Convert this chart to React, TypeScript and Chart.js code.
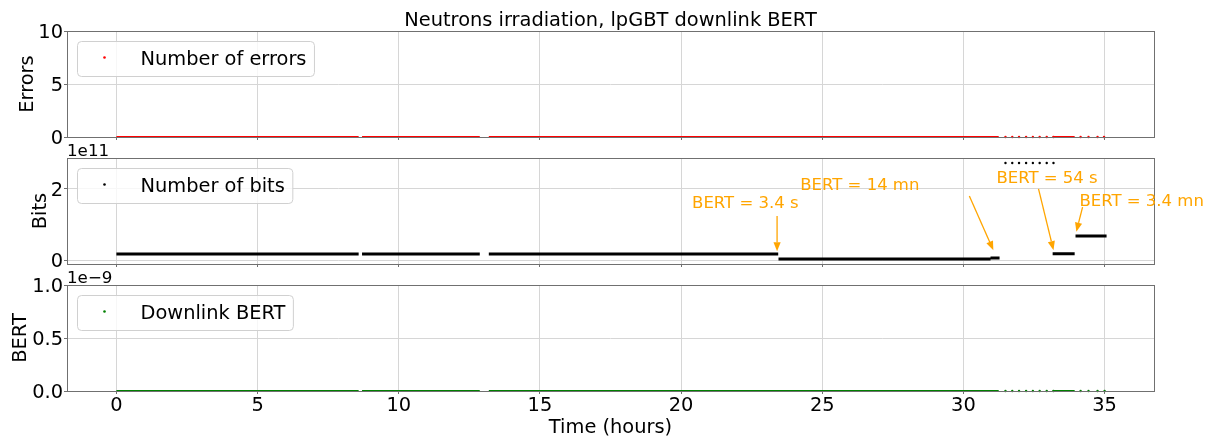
import React, { useEffect, useRef } from 'react';
import { Chart, registerables } from 'chart.js';

Chart.register(...registerables);

const FONT = "'DejaVu Sans', 'Liberation Sans', sans-serif";
const W = 1207;
const H = 438;

// ---------- data ----------
const TITLE = 'Neutrons irradiation, lpGBT downlink BERT';
const X_LABEL = 'Time (hours)';
const X_MIN = -1.75;
const X_MAX = 36.75;
const X_TICKS = [0, 5, 10, 15, 20, 25, 30, 35];

// Number of errors: continuous runs [start h, end h, value] and sparse points [h, value]
const ERR_SEGMENTS = [
  [0, 8.58, 0],
  [8.7, 12.87, 0],
  [13.19, 31.25, 0],
  [33.16, 33.94, 0],
];
const ERR_POINTS = [
  [31.49, 0], [31.73, 0], [31.97, 0], [32.22, 0], [32.46, 0], [32.7, 0], [32.95, 0], [33.19, 0],
  [34.15, 0], [34.43, 0], [34.75, 0], [34.98, 0],
];
const ERR_TICKS = [0, 5, 10];

// Number of bits
const BITS_SEGMENTS = [
  [0, 8.58, 1.7e10],
  [8.7, 12.87, 1.7e10],
  [13.19, 23.44, 1.7e10],
  [23.45, 30.96, 3e9],
  [30.96, 31.28, 6e9],
  [33.16, 33.94, 1.8e10],
  [33.97, 35.07, 6.8e10],
];
const BITS_POINTS = [
  [31.49, 2.73e11], [31.73, 2.73e11], [31.97, 2.73e11], [32.22, 2.73e11],
  [32.46, 2.73e11], [32.7, 2.73e11], [32.95, 2.73e11], [33.19, 2.73e11],
];
const BITS_TICKS = [0, 2e11];

// Downlink BERT
const BERT_SEGMENTS = [
  [0, 8.58, 0],
  [8.7, 12.87, 0],
  [13.19, 31.25, 0],
  [33.16, 33.94, 0],
];
const BERT_POINTS = [
  [31.49, 0], [31.73, 0], [31.97, 0], [32.22, 0], [32.46, 0], [32.7, 0], [32.95, 0], [33.19, 0],
  [34.15, 0], [34.43, 0], [34.75, 0], [35.0, 0],
];
const BERT_TICKS = [0, 0.5e-9, 1e-9];

// Annotations (data coordinates of the bits panel; text anchor = left / baseline)
const ANNOT_TEXTS = ['BERT = 3.4 s', 'BERT = 14 mn', 'BERT = 54 s', 'BERT = 3.4 mn'];
const ANNOT_TEXT_AT = [[20.39, 1.473e11], [24.22, 1.971e11], [31.17, 2.159e11], [34.11, 1.521e11]];
const ANNOT_TAIL = [[23.4, 1.24e11], [30.21, 1.8e11], [32.66, 2.0e11], [34.22, 1.49e11]];
const ANNOT_HEAD = [[23.4, 0.25e11], [31.06, 0.28e11], [33.19, 0.28e11], [34.0, 0.8e11]];

// ---------- styles ----------
const SPINE = '#707070';
const GRID = '#d6d6d6';
const ORANGE = '#FFA500';
const FS = 19.4;

function segData(segs: number[][]) {
  const out: any[] = [];
  segs.forEach(([s, e, v]) => {
    out.push({ x: s, y: v });
    out.push({ x: e, y: v });
    out.push({ x: e, y: null });
  });
  return out;
}

function drawArrow(ctx: CanvasRenderingContext2D, x1: number, y1: number, x2: number, y2: number) {
  const a = Math.atan2(y2 - y1, x2 - x1);
  const hl = 9;
  const hw = 3.6;
  const bx = x2 - hl * Math.cos(a);
  const by = y2 - hl * Math.sin(a);
  ctx.strokeStyle = ORANGE;
  ctx.fillStyle = ORANGE;
  ctx.lineWidth = 1.3;
  ctx.beginPath();
  ctx.moveTo(x1, y1);
  ctx.lineTo(bx, by);
  ctx.stroke();
  ctx.beginPath();
  ctx.moveTo(x2, y2);
  ctx.lineTo(bx + hw * Math.sin(a), by - hw * Math.cos(a));
  ctx.lineTo(bx - hw * Math.sin(a), by + hw * Math.cos(a));
  ctx.closePath();
  ctx.fill();
}

type PanelOpts = {
  label: string;
  color: string;
  lineWidth: number;
  segments: number[][];
  points: number[][];
  yMin: number;
  yMax: number;
  yTicks: number[];
  yFmt: (v: number) => string;
  yTitle: string;
  yTitlePad: number;
  top: number;
  bottom: number;
  title?: boolean;
  xLabels?: boolean;
  offsetText?: string;
  annotations?: boolean;
};

function makeConfig(p: PanelOpts): any {
  const xAxisH = p.xLabels ? H - p.bottom : 4;
  const padTop = p.title ? 0 : p.top;
  const padBottom = H - p.bottom - xAxisH;

  const extras = {
    id: 'extras' + p.label.replace(/\s/g, ''),
    afterDatasetsDraw(chart: any) {
      const ctx: CanvasRenderingContext2D = chart.ctx;
      const ca = chart.chartArea;
      ctx.save();
      // spines
      ctx.strokeStyle = SPINE;
      ctx.lineWidth = 1;
      ctx.strokeRect(Math.round(ca.left) + 0.5, Math.round(ca.top) + 0.5, Math.round(ca.right - ca.left), Math.round(ca.bottom - ca.top));

      // offset text
      if (p.offsetText) {
        ctx.fillStyle = '#000';
        ctx.font = `16.7px ${FONT}`;
        ctx.textAlign = 'left';
        ctx.textBaseline = 'alphabetic';
        ctx.fillText(p.offsetText, ca.left, ca.top - 2.3);
      }

      // annotations
      if (p.annotations) {
        const xs = chart.scales.x;
        const ys = chart.scales.y;
        ctx.font = `16.5px ${FONT}`;
        ctx.textAlign = 'left';
        ctx.textBaseline = 'alphabetic';
        ANNOT_TEXTS.forEach((t, i) => {
          ctx.fillStyle = ORANGE;
          ctx.fillText(t, xs.getPixelForValue(ANNOT_TEXT_AT[i][0]), ys.getPixelForValue(ANNOT_TEXT_AT[i][1]));
          drawArrow(
            ctx,
            xs.getPixelForValue(ANNOT_TAIL[i][0]),
            ys.getPixelForValue(ANNOT_TAIL[i][1]),
            xs.getPixelForValue(ANNOT_HEAD[i][0]),
            ys.getPixelForValue(ANNOT_HEAD[i][1])
          );
        });
      }

      // legend
      const label = chart.data.datasets[0].label;
      ctx.font = `${FS}px ${FONT}`;
      const tw = ctx.measureText(label).width;
      const x0 = ca.left + 10.5;
      const y0 = Math.round(ca.top) + 10.5;
      const w = 63 + tw + 8;
      const h = 35;
      ctx.beginPath();
      (ctx as any).roundRect(x0, y0, w, h, 4);
      ctx.fillStyle = 'rgba(255,255,255,0.8)';
      ctx.fill();
      ctx.strokeStyle = '#d0d0d0';
      ctx.lineWidth = 1;
      ctx.stroke();
      ctx.fillStyle = p.color;
      ctx.beginPath();
      ctx.arc(x0 + 27, y0 + 16, 1.3, 0, Math.PI * 2);
      ctx.fill();
      ctx.fillStyle = '#000';
      ctx.textAlign = 'left';
      ctx.textBaseline = 'alphabetic';
      ctx.fillText(label, x0 + 63, y0 + 23);
      ctx.restore();
    },
  };

  return {
    type: 'scatter',
    data: {
      datasets: [
        {
          label: p.label,
          data: segData(p.segments),
          showLine: true,
          spanGaps: false,
          borderColor: p.color,
          backgroundColor: p.color,
          borderWidth: p.lineWidth,
          pointRadius: 0,
          clip: false,
        },
        {
          label: p.label + ' points',
          data: p.points.map(([x, y]) => ({ x, y })),
          showLine: false,
          pointRadius: 1.2,
          pointBorderWidth: 0,
          pointBackgroundColor: p.color,
          backgroundColor: p.color,
          clip: false,
        },
      ],
    },
    options: {
      responsive: false,
      animation: false,
      events: [],
      layout: { padding: { left: 0, right: W - 1154, top: padTop, bottom: padBottom } },
      plugins: {
        legend: { display: false },
        tooltip: { enabled: false },
        title: {
          display: !!p.title,
          text: TITLE,
          fullSize: false,
          color: '#000',
          font: { family: FONT, size: FS, weight: 'normal', lineHeight: 1.0 },
          padding: { top: 11.2, bottom: 0.4 },
        },
      },
      scales: {
        x: {
          type: 'linear',
          min: X_MIN,
          max: X_MAX,
          afterBuildTicks: (s: any) => {
            s.ticks = X_TICKS.map((v) => ({ value: v }));
          },
          afterFit: (s: any) => {
            s.height = xAxisH;
          },
          grid: { color: GRID, tickColor: SPINE, tickLength: 3, lineWidth: 1 },
          border: { display: false },
          ticks: {
            display: !!p.xLabels,
            color: '#000',
            font: { family: FONT, size: FS },
            padding: 0.5,
            maxRotation: 0,
            callback: (v: any) => String(v),
          },
          title: {
            display: !!p.xLabels,
            text: X_LABEL,
            color: '#000',
            font: { family: FONT, size: FS, lineHeight: 1.07 },
            padding: { top: 0, bottom: 0 },
          },
        },
        y: {
          type: 'linear',
          min: p.yMin,
          max: p.yMax,
          afterBuildTicks: (s: any) => {
            s.ticks = p.yTicks.map((v) => ({ value: v }));
          },
          afterFit: (s: any) => {
            s.width = 67;
          },
          grid: { color: GRID, tickColor: SPINE, tickLength: 3, lineWidth: 1 },
          border: { display: false },
          ticks: {
            color: '#000',
            font: { family: FONT, size: FS },
            padding: 1,
            labelOffset: 2,
            callback: (v: any) => p.yFmt(Number(v)),
          },
          title: {
            display: true,
            text: p.yTitle,
            color: '#000',
            font: { family: FONT, size: FS },
            padding: { top: p.yTitlePad, bottom: 0 },
          },
        },
      },
    },
    plugins: [extras],
  };
}

const PANELS: PanelOpts[] = [
  {
    label: 'Number of errors',
    color: '#ff0000',
    lineWidth: 2,
    segments: ERR_SEGMENTS,
    points: ERR_POINTS,
    yMin: 0,
    yMax: 10,
    yTicks: ERR_TICKS,
    yFmt: (v) => String(v),
    yTitle: 'Errors',
    yTitlePad: 15.9,
    top: 31,
    bottom: 137,
    title: true,
  },
  {
    label: 'Number of bits',
    color: '#000000',
    lineWidth: 3,
    segments: BITS_SEGMENTS,
    points: BITS_POINTS,
    yMin: -1.1e10,
    yMax: 2.87e11,
    yTicks: BITS_TICKS,
    yFmt: (v) => String(Math.round(v / 1e11)),
    yTitle: 'Bits',
    yTitlePad: 29.3,
    top: 158,
    bottom: 264,
    offsetText: '1e11',
    annotations: true,
  },
  {
    label: 'Downlink BERT',
    color: '#008000',
    lineWidth: 2,
    segments: BERT_SEGMENTS,
    points: BERT_POINTS,
    yMin: 0,
    yMax: 1e-9,
    yTicks: BERT_TICKS,
    yFmt: (v) => (v / 1e-9).toFixed(1),
    yTitle: 'BERT',
    yTitlePad: 9.3,
    top: 285,
    bottom: 391,
    xLabels: true,
    offsetText: '1e\u22129',
  },
];

function Panel({ opts }: { opts: PanelOpts }) {
  const ref = useRef<HTMLCanvasElement>(null);
  useEffect(() => {
    if (!ref.current) return;
    const chart = new Chart(ref.current, makeConfig(opts));
    return () => chart.destroy();
  }, [opts]);
  return (
    <canvas
      ref={ref}
      width={W}
      height={H}
      style={{ position: 'absolute', left: 0, top: 0, width: W, height: H }}
    />
  );
}

export default function App() {
  return (
    <div style={{ position: 'fixed', left: 0, top: 0, width: W, height: H, background: '#fff', overflow: 'hidden' }}>
      {PANELS.map((p) => (
        <Panel key={p.label} opts={p} />
      ))}
    </div>
  );
}
